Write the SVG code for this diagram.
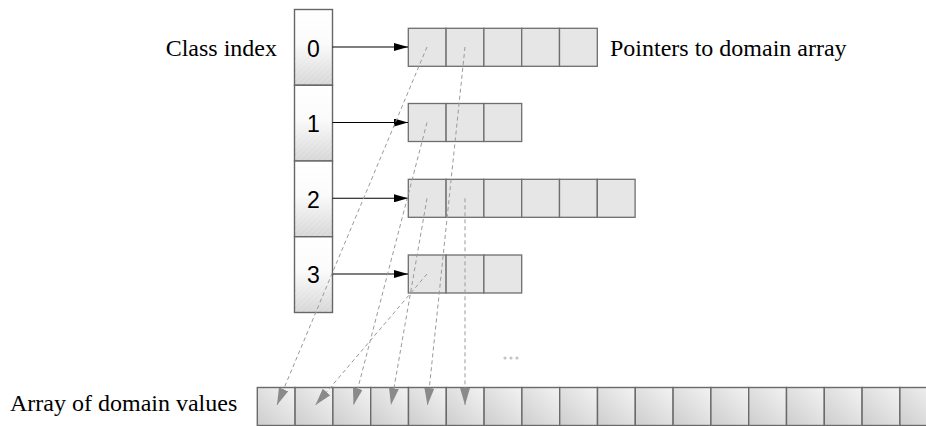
<svg xmlns="http://www.w3.org/2000/svg" width="926" height="426" viewBox="0 0 926 426">
  <defs>
    <style>
      .lbl { font-family: "Liberation Serif", "Times New Roman", serif; font-size: 24px; fill: #000; }
      .num { font-family: "Liberation Sans", Arial, sans-serif; font-size: 23px; fill: #000; text-anchor: middle; }
      .idx { fill: url(#idxFill); stroke: #666; stroke-width: 1.4; }
      .hatch { fill: url(#hatch); stroke: none; }
      .ptr { fill: #e6e6e6; stroke: #6e6e6e; stroke-width: 1.3; }
      .dom { fill: url(#domFill); stroke: #6a6a6a; stroke-width: 1.4; }
      .link { stroke: #000; stroke-width: 1.1; fill: none; marker-end: url(#blackHead); }
      .ref { stroke: #9a9a9a; stroke-width: 1; stroke-dasharray: 4 3; fill: none; marker-end: url(#greyHead); }
      .dot { fill: #c4c4c4; }
    </style>
    <linearGradient id="idxFill" x1="0" y1="0" x2="0" y2="1">
      <stop offset="0" stop-color="#ffffff"/>
      <stop offset="0.45" stop-color="#fbfbfb"/>
      <stop offset="1" stop-color="#d6d6d6"/>
    </linearGradient>
    <linearGradient id="domFill" x1="0" y1="1" x2="1" y2="0">
      <stop offset="0" stop-color="#cdcdcd"/>
      <stop offset="1" stop-color="#f3f3f3"/>
    </linearGradient>
    <pattern id="hatch" width="4" height="4" patternUnits="userSpaceOnUse" patternTransform="rotate(45)">
      <line x1="0" y1="0" x2="0" y2="4" stroke="#ffffff" stroke-width="1" opacity="0.35"/>
    </pattern>
    <marker id="blackHead" markerUnits="userSpaceOnUse" markerWidth="14" markerHeight="8" refX="14" refY="4" orient="auto">
      <path d="M0,0 L14,4 L0,8 z" fill="#000"/>
    </marker>
    <marker id="greyHead" markerUnits="userSpaceOnUse" markerWidth="17" markerHeight="10" refX="17" refY="5" orient="auto">
      <path d="M0,0 L17,5 L0,10 z" fill="#8a8a8a"/>
    </marker>
  </defs>

  <rect width="926" height="426" fill="#ffffff"/>

  <!-- class index column -->
  <g id="class-index">
    <text class="lbl" x="277" y="56" text-anchor="end">Class index</text>
    <g id="idx-0">
      <rect class="idx" x="294.5" y="9.5" width="38" height="75.75"/>
      <rect class="hatch" x="295" y="50" width="37" height="35"/>
      <text class="num" x="313.5" y="56.5">0</text>
    </g>
    <g id="idx-1">
      <rect class="idx" x="294.5" y="85.25" width="38" height="75.75"/>
      <rect class="hatch" x="295" y="126" width="37" height="35"/>
      <text class="num" x="313.5" y="132">1</text>
    </g>
    <g id="idx-2">
      <rect class="idx" x="294.5" y="161" width="38" height="75.75"/>
      <rect class="hatch" x="295" y="202" width="37" height="34"/>
      <text class="num" x="313.5" y="207.5">2</text>
    </g>
    <g id="idx-3">
      <rect class="idx" x="294.5" y="236.75" width="38" height="75.75"/>
      <rect class="hatch" x="295" y="278" width="37" height="34"/>
      <text class="num" x="313.5" y="283">3</text>
    </g>
  </g>

  <!-- pointer arrays, one row per class -->
  <g id="ptr-row-0">
    <rect class="ptr" x="408.3" y="28.3" width="37.8" height="38"/>
    <rect class="ptr" x="446.1" y="28.3" width="37.8" height="38"/>
    <rect class="ptr" x="483.9" y="28.3" width="37.8" height="38"/>
    <rect class="ptr" x="521.7" y="28.3" width="37.8" height="38"/>
    <rect class="ptr" x="559.5" y="28.3" width="37.8" height="38"/>
    <text class="lbl" x="610" y="56">Pointers to domain array</text>
  </g>
  <g id="ptr-row-1">
    <rect class="ptr" x="408.3" y="103.5" width="37.8" height="38"/>
    <rect class="ptr" x="446.1" y="103.5" width="37.8" height="38"/>
    <rect class="ptr" x="483.9" y="103.5" width="37.8" height="38"/>
  </g>
  <g id="ptr-row-2">
    <rect class="ptr" x="408.3" y="179.3" width="37.8" height="38"/>
    <rect class="ptr" x="446.1" y="179.3" width="37.8" height="38"/>
    <rect class="ptr" x="483.9" y="179.3" width="37.8" height="38"/>
    <rect class="ptr" x="521.7" y="179.3" width="37.8" height="38"/>
    <rect class="ptr" x="559.5" y="179.3" width="37.8" height="38"/>
    <rect class="ptr" x="597.3" y="179.3" width="37.8" height="38"/>
  </g>
  <g id="ptr-row-3">
    <rect class="ptr" x="408.3" y="255" width="37.8" height="38"/>
    <rect class="ptr" x="446.1" y="255" width="37.8" height="38"/>
    <rect class="ptr" x="483.9" y="255" width="37.8" height="38"/>
  </g>

  <!-- continuation mark -->
  <g id="ellipsis">
    <circle class="dot" cx="505" cy="358" r="1.6"/>
    <circle class="dot" cx="511" cy="358" r="1.6"/>
    <circle class="dot" cx="517" cy="358" r="1.6"/>
  </g>

  <!-- domain value array -->
  <g id="domain-array">
    <text class="lbl" x="10" y="411">Array of domain values</text>
    <rect class="dom" x="257.3" y="387.5" width="37.8" height="38"/>
    <rect class="dom" x="295.1" y="387.5" width="37.8" height="38"/>
    <rect class="dom" x="332.9" y="387.5" width="37.8" height="38"/>
    <rect class="dom" x="370.7" y="387.5" width="37.8" height="38"/>
    <rect class="dom" x="408.5" y="387.5" width="37.8" height="38"/>
    <rect class="dom" x="446.3" y="387.5" width="37.8" height="38"/>
    <rect class="dom" x="484.1" y="387.5" width="37.8" height="38"/>
    <rect class="dom" x="521.9" y="387.5" width="37.8" height="38"/>
    <rect class="dom" x="559.7" y="387.5" width="37.8" height="38"/>
    <rect class="dom" x="597.5" y="387.5" width="37.8" height="38"/>
    <rect class="dom" x="635.3" y="387.5" width="37.8" height="38"/>
    <rect class="dom" x="673.1" y="387.5" width="37.8" height="38"/>
    <rect class="dom" x="710.9" y="387.5" width="37.8" height="38"/>
    <rect class="dom" x="748.7" y="387.5" width="37.8" height="38"/>
    <rect class="dom" x="786.5" y="387.5" width="37.8" height="38"/>
    <rect class="dom" x="824.3" y="387.5" width="37.8" height="38"/>
    <rect class="dom" x="862.1" y="387.5" width="37.8" height="38"/>
    <rect class="dom" x="899.9" y="387.5" width="37.8" height="38"/>
  </g>

  <!-- connectors -->
  <g id="connectors">
    <line class="link" x1="332.5" y1="47" x2="408" y2="47"/>
    <line class="link" x1="332.5" y1="122.5" x2="408" y2="122.5"/>
    <line class="link" x1="332.5" y1="198.3" x2="408" y2="198.3"/>
    <line class="link" x1="332.5" y1="274" x2="408" y2="274"/>

    <line class="ref" x1="427" y1="47" x2="277" y2="405"/>
    <line class="ref" x1="465" y1="47" x2="427.5" y2="405"/>
    <line class="ref" x1="427" y1="122.5" x2="353.5" y2="405"/>
    <line class="ref" x1="427" y1="198.3" x2="391" y2="405"/>
    <line class="ref" x1="465" y1="198.3" x2="465" y2="405"/>
    <line class="ref" x1="427" y1="274" x2="315.5" y2="405"/>
  </g>
</svg>
